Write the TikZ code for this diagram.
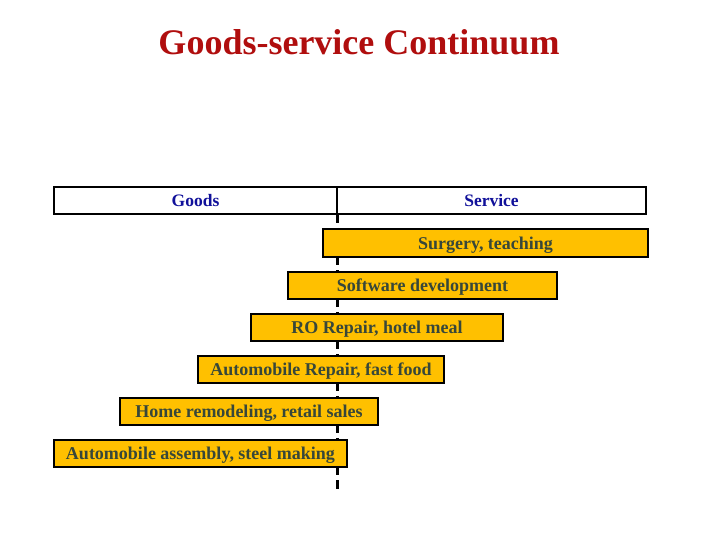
\documentclass[tikz,border=0pt]{standalone}
\usepackage{fontspec}
\setmainfont{Liberation Serif}
\definecolor{boxfill}{HTML}{FFC000}
\definecolor{boxtext}{HTML}{37473A}
\definecolor{endtext}{HTML}{10109A}
\definecolor{titlered}{HTML}{B00E0E}
\tikzset{
	endbox/.style={draw,line width=2.5pt,fill=white,minimum height=27pt,inner sep=0pt,
		text height=12pt,text depth=0pt,
		text=endtext,font=\bfseries\fontsize{17.5}{20}\selectfont},
	kindbox/.style={draw,line width=2pt,fill=boxfill,minimum height=27pt,inner sep=0pt,
		text height=12pt,text depth=0pt,
		text=boxtext,font=\bfseries\fontsize{18}{20}\selectfont}
}
\begin{document}
\begin{tikzpicture}[x=1pt,y=-1pt]
		\useasboundingbox (0,0) rectangle (720,540);
		\node[text=titlered,font=\bfseries\fontsize{36}{40}\selectfont] (title) at (359,42) {Goods-service Continuum};
		\coordinate (divtop) at (337,200);
		\coordinate (divend) at (337,493);
		\draw[line width=3pt,dash pattern=on 9pt off 5pt] (divtop) -- (divend);
		\node[endbox,minimum width=283pt] (goods) at (195.5,200.5) {Goods};
		\node[endbox,minimum width=309pt] (service) at (491.5,200.5) {Service};
		\node[kindbox,minimum width=325pt] (surgery) at (485.5,243) {Surgery, teaching};
		\node[kindbox,minimum width=269pt] (software) at (422.5,285) {Software development};
		\node[kindbox,minimum width=252pt] (ro) at (377,327) {RO Repair, hotel meal};
		\node[kindbox,minimum width=246pt] (autorepair) at (321,369) {Automobile Repair, fast food};
		\node[kindbox,minimum width=258pt] (home) at (249,411) {Home remodeling, retail sales};
		\node[kindbox,minimum width=293pt] (assembly) at (200.5,453) {Automobile assembly, steel making};
	\end{tikzpicture}
\end{document}
